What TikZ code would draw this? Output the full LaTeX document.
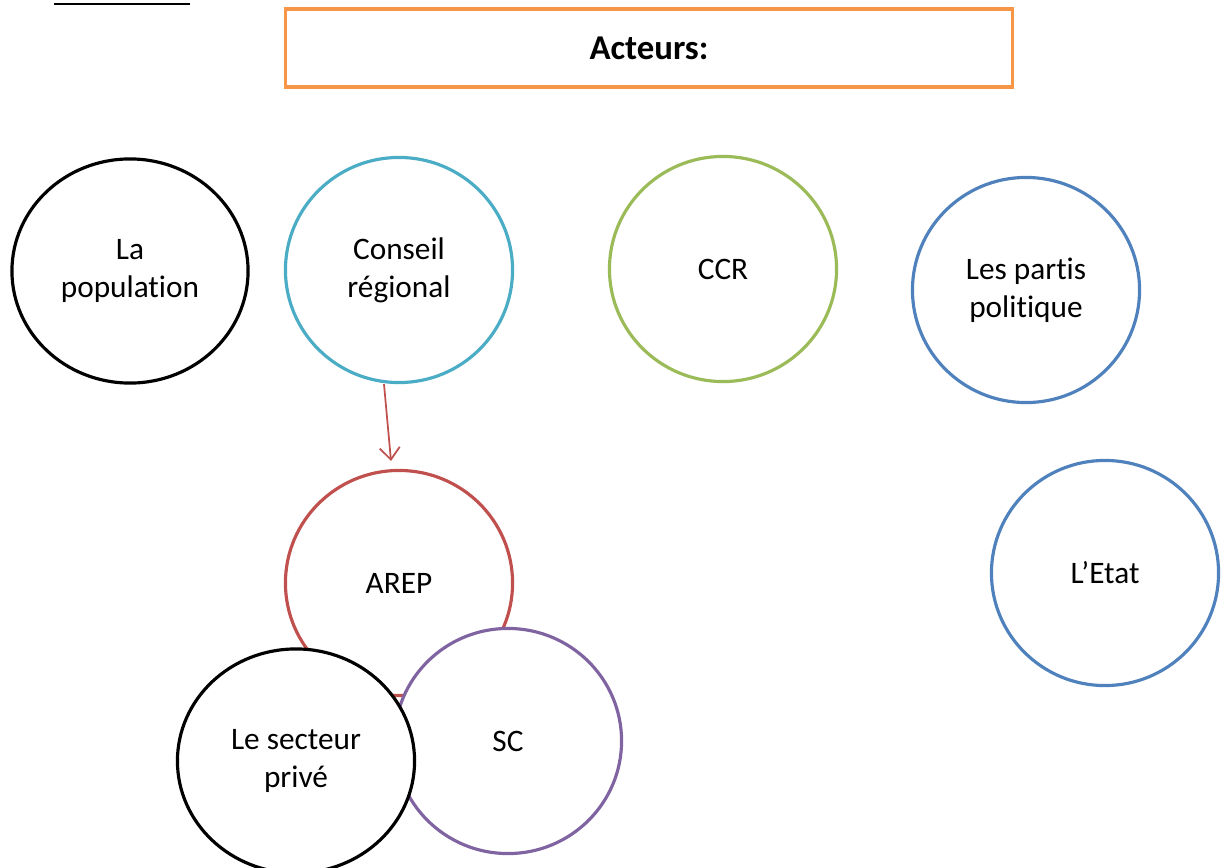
\documentclass[tikz,border=0pt]{standalone}
\usepackage{fontspec}
\setmainfont{Carlito}[Ligatures=NoCommon]
\usetikzlibrary{shapes.geometric,arrows.meta,positioning}
\definecolor{orangebox}{RGB}{247,150,70}
\definecolor{cyanact}{RGB}{75,172,198}
\definecolor{greenact}{RGB}{155,187,89}
\definecolor{blueact}{RGB}{79,129,189}
\definecolor{redact}{RGB}{192,80,77}
\definecolor{purpleact}{RGB}{128,100,162}
\tikzstyle{actor} = [draw, ellipse, fill=white, line width=0.9pt, minimum width=2.27cm, minimum height=2.25cm, align=center, font=\fontsize{8.9}{10.8}\selectfont]
\tikzstyle{titlebox} = [draw=orangebox, rectangle, line width=0.9pt, minimum width=7.26cm, minimum height=0.78cm, font=\fontsize{9.9}{11}\selectfont\bfseries]

\begin{document}
\begin{tikzpicture}[x=0.01cm, y=0.01cm, >=Stealth]
\useasboundingbox (0,0) rectangle (1222,-867);

\draw [line width=0.8pt] (54,-4) -- (190,-4);
\node [titlebox] (title) at (649,-48) {Acteurs:};

\node [actor, minimum width=2.36cm, minimum height=2.24cm] (pop) at (130,-271) {La\\population};
\node [actor, draw=cyanact] (conseil) at (399,-270) {Conseil\\régional};
\node [actor, draw=greenact] (ccr) at (723,-269) {CCR};
\node [actor, draw=blueact] (partis) at (1026,-290) {Les partis\\politique};
\node [actor, draw=blueact] (etat) at (1105,-573) {L'Etat};

\node [actor, draw=redact] (arep) at (399,-583) {AREP};
\node [actor, draw=purpleact] (sc) at (508,-741) {SC};
\node [actor, minimum width=2.37cm, minimum height=2.24cm] (prive) at (296,-761) {Le secteur\\privé};

\coordinate (arepin) at (391,-461);
\draw [->, redact, line width=0.5pt, >={Straight Barb[length=1.2mm,width=2mm]}] (conseil.south) ++(-15,0) -- (arepin);

\end{tikzpicture}
\end{document}
